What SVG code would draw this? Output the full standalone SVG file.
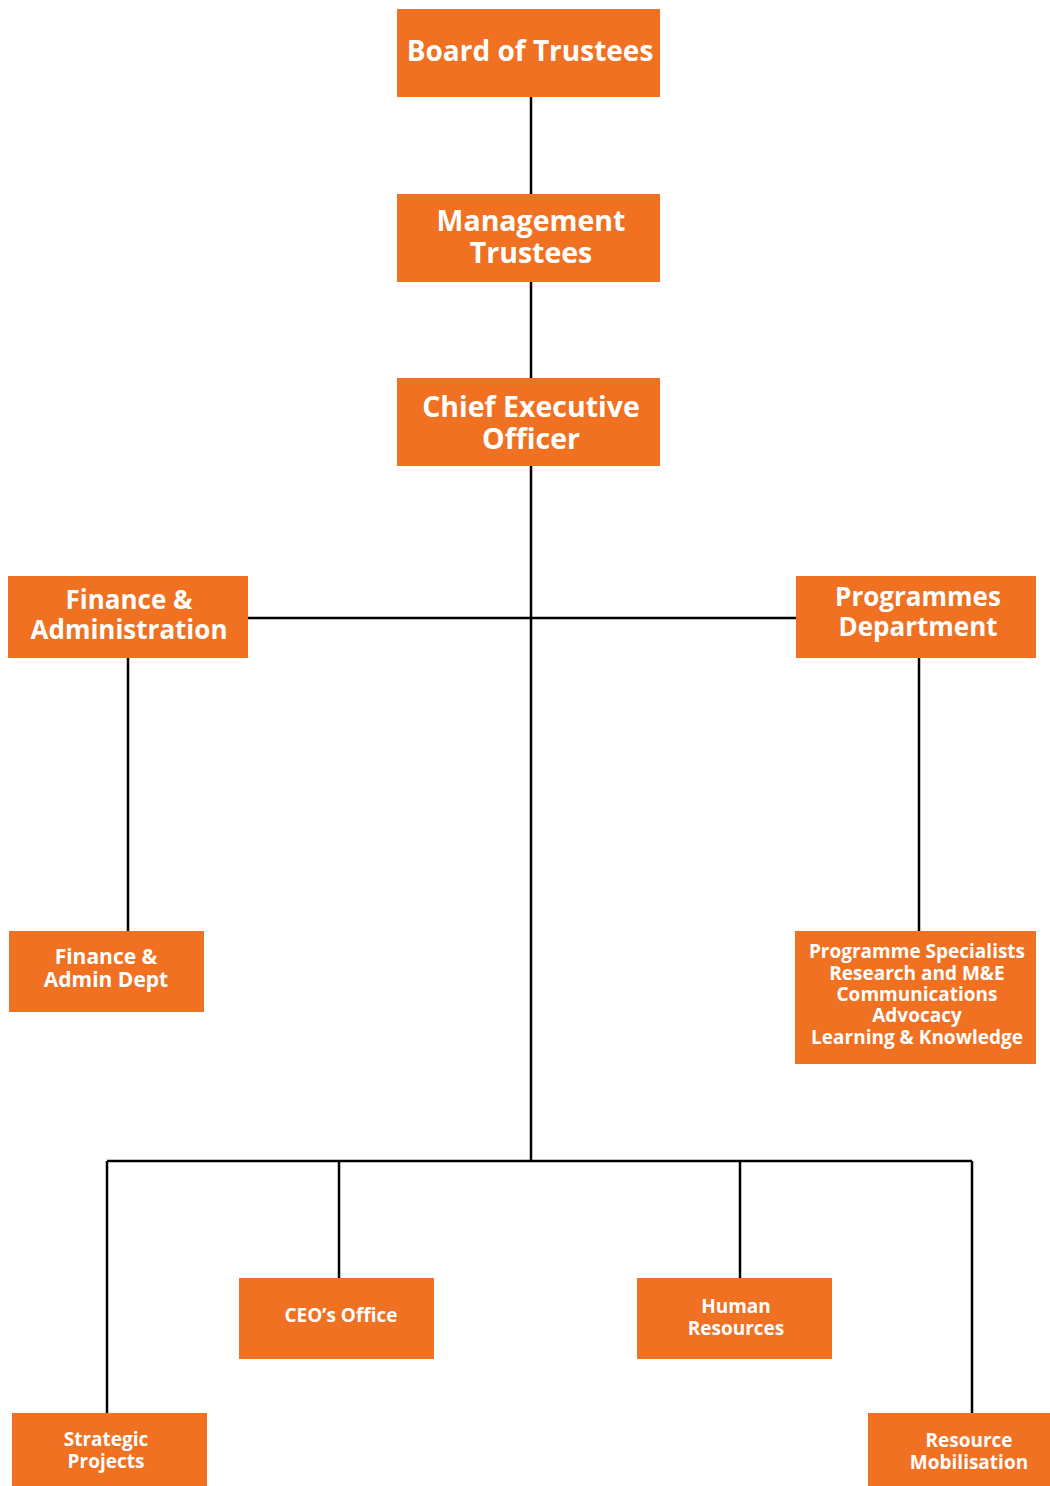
<svg xmlns="http://www.w3.org/2000/svg" width="1050" height="1486" viewBox="0 0 1050 1486">
<style>
.box{fill:#F07122}
.t{font-family:"Open Sans","Noto Sans",sans-serif;font-weight:bold;fill:#fff;text-anchor:middle}
.b{font-size:28px}
.l{font-size:28.5px}
.m{font-size:26px}
.s{font-size:21px}
.xs{font-size:19px}
.c{stroke:#000;stroke-width:2.5;fill:none}
</style>
<rect width="1050" height="1486" fill="#fff"/>
<g id="connectors" class="c">
<line x1="531" y1="97" x2="531" y2="194"/>
<line x1="531" y1="282" x2="531" y2="378"/>
<line x1="531" y1="466" x2="531" y2="1161"/>
<line x1="248" y1="618" x2="796" y2="618"/>
<line x1="128" y1="658" x2="128" y2="931"/>
<line x1="919" y1="658" x2="919" y2="931"/>
<line x1="107" y1="1161" x2="972" y2="1161"/>
<line x1="107" y1="1161" x2="107" y2="1413"/>
<line x1="339" y1="1161" x2="339" y2="1278"/>
<line x1="740" y1="1161" x2="740" y2="1278"/>
<line x1="972" y1="1161" x2="972" y2="1413"/>
</g>
<g id="board"><rect class="box" x="397" y="9" width="263" height="88"/><text class="t b" x="530" y="61">Board of Trustees</text></g>
<g id="mgmt"><rect class="box" x="397" y="194" width="263" height="88"/><text class="t l" x="531" y="231">Management</text><text class="t l" x="531" y="263">Trustees</text></g>
<g id="ceo"><rect class="box" x="397" y="378" width="263" height="88"/><text class="t l" x="531" y="417">Chief Executive</text><text class="t l" x="531" y="449">Officer</text></g>
<g id="finadmin"><rect class="box" x="8" y="576" width="240" height="82"/><text class="t m" x="129" y="609">Finance &amp;</text><text class="t m" x="129" y="639">Administration</text></g>
<g id="progdept"><rect class="box" x="796" y="576" width="240" height="82"/><text class="t m" x="918" y="606">Programmes</text><text class="t m" x="918" y="636">Department</text></g>
<g id="finadmindept"><rect class="box" x="9" y="931" width="195" height="81"/><text class="t s" x="106" y="964">Finance &amp;</text><text class="t s" x="106" y="987">Admin Dept</text></g>
<g id="progspec"><rect class="box" x="795" y="931" width="241" height="133"/>
<text class="t xs" x="917" y="958">Programme Specialists</text>
<text class="t xs" x="917" y="980">Research and M&amp;E</text>
<text class="t xs" x="917" y="1001">Communications</text>
<text class="t xs" x="917" y="1022">Advocacy</text>
<text class="t xs" x="917" y="1044">Learning &amp; Knowledge</text></g>
<g id="ceooffice"><rect class="box" x="239" y="1278" width="195" height="81"/><text class="t xs" x="341" y="1322">CEO’s Office</text></g>
<g id="hr"><rect class="box" x="637" y="1278" width="195" height="81"/><text class="t xs" x="736" y="1313">Human</text><text class="t xs" x="736" y="1335">Resources</text></g>
<g id="strategic"><rect class="box" x="12" y="1413" width="195" height="73"/><text class="t xs" x="106" y="1446">Strategic</text><text class="t xs" x="106" y="1468">Projects</text></g>
<g id="resmob"><rect class="box" x="868" y="1413" width="182" height="73"/><text class="t xs" x="969" y="1447">Resource</text><text class="t xs" x="969" y="1469">Mobilisation</text></g>
</svg>
